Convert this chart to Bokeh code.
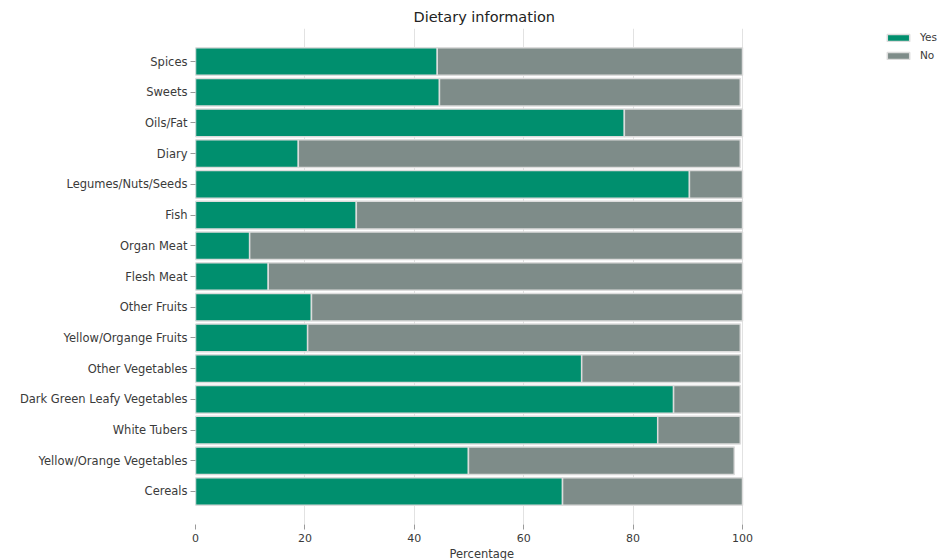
from bokeh.plotting import figure
from bokeh.models import FactorRange, Range1d, Legend, LegendItem, FixedTicker, ColumnDataSource, Title
from bokeh.embed import file_html
from bokeh.resources import INLINE

# Categories listed top to bottom as in the chart
categories = ["Spices", "Sweets", "Oils/Fat", "Diary", "Legumes/Nuts/Seeds", "Fish",
              "Organ Meat", "Flesh Meat", "Other Fruits", "Yellow/Organge Fruits",
              "Other Vegetables", "Dark Green Leafy Vegetables", "White Tubers",
              "Yellow/Orange Vegetables", "Cereals"]
yes_pct = [44.2, 44.6, 78.4, 18.8, 90.3, 29.4, 9.9, 13.3, 21.2, 20.5, 70.6, 87.4, 84.5, 49.9, 67.1]
no_pct = [55.8, 55.0, 21.6, 80.8, 9.7, 70.6, 90.1, 86.7, 78.8, 79.1, 29.0, 12.2, 15.1, 48.6, 32.9]
x_ticks = [0, 20, 40, 60, 80, 100]

FONT = "DejaVu Sans"
TXT = "#3a3a3a"
GREEN = "#008f6e"
GREY = "#7e8c89"

factors = list(reversed(categories))
src = ColumnDataSource(dict(cat=categories, Yes=yes_pct, No=no_pct))

W, H = 942, 560
# plot frame spans 195..940 px; the 0-100 scale occupies 195..742 px, the rest holds the legend
FRAME_L, FRAME_R, AXIS_R = 195, 940, 742
FRAME_T, FRAME_B = 28, 524
x_end = 100 * (FRAME_R - FRAME_L) / (AXIS_R - FRAME_L)

p = figure(width=W, height=H, output_backend="svg", toolbar_location=None,
           y_range=FactorRange(factors=factors, range_padding=0.575, range_padding_units="absolute"),
           x_range=Range1d(0, x_end),
           min_border_left=FRAME_L, min_border_right=W - FRAME_R,
           min_border_top=FRAME_T, min_border_bottom=H - FRAME_B)

rs = p.hbar_stack(["Yes", "No"], y="cat", height=0.9, source=src, color=[GREEN, GREY],
                  line_color="#dcdcdc", line_width=1.5)

p.title.text = "Dietary information"
p.title.text_font = FONT
p.title.text_font_size = "14.5px"
p.title.text_font_style = "normal"
p.title.text_color = "#222222"
p.title.align = "left"
p.title.offset = 218
p.title.standoff = 7

p.outline_line_color = None
p.background_fill_color = "white"
p.ygrid.grid_line_color = None
p.xgrid.grid_line_color = "#e2e2e2"
p.xgrid.grid_line_width = 1
p.xgrid.ticker = FixedTicker(ticks=x_ticks)

p.xaxis.ticker = FixedTicker(ticks=x_ticks)

for ax in (p.xaxis, p.yaxis):
    ax.axis_line_color = None
    ax.major_tick_line_color = "#9a9a9a"
    ax.major_tick_out = 5
    ax.major_tick_in = 0
    ax.minor_tick_line_color = None
    ax.major_label_text_font = FONT
    ax.major_label_text_color = TXT
    ax.major_label_standoff = 3
p.yaxis.major_label_text_font_size = "11.5px"
p.xaxis.major_label_text_font_size = "11px"
p.xaxis.major_label_standoff = 4

# x axis title, centred under the 0-100 scale
xlabel = Title(text="Percentage", align="left", offset=254, standoff=0,
               text_font=FONT, text_font_size="11.5px", text_font_style="normal",
               text_color=TXT)
p.add_layout(xlabel, "below")

legend = Legend(items=[LegendItem(label="Yes", renderers=[rs[0]]),
                       LegendItem(label="No", renderers=[rs[1]])],
                location=(884 - FRAME_L, FRAME_B - 31 - 30), orientation="vertical",
                border_line_color=None, background_fill_alpha=0,
                padding=0, margin=0, spacing=6,
                glyph_width=28, glyph_height=9, label_height=12,
                label_standoff=8, label_text_font=FONT, label_text_font_size="10.5px",
                label_text_color=TXT)
p.add_layout(legend, "center")

open("out.html", "w").write(file_html(p, INLINE))
